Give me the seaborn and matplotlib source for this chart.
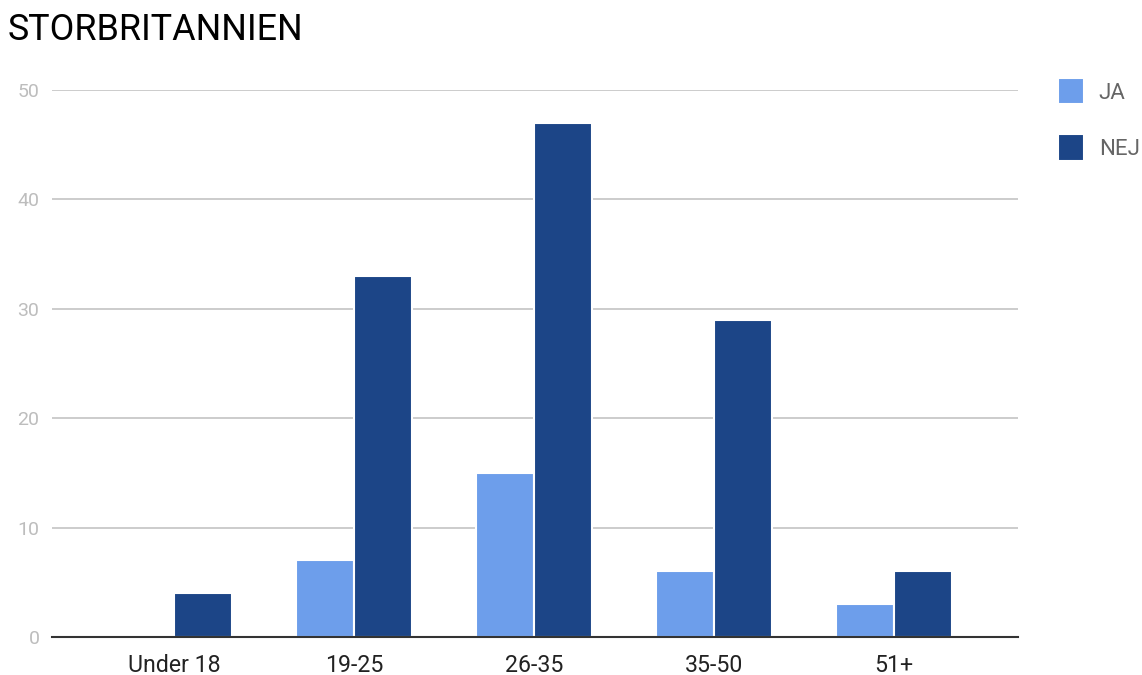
import matplotlib
matplotlib.use("Agg")
import matplotlib.pyplot as plt
import seaborn as sns
import pandas as pd

# Age groups and answer counts
categories = ["Under 18", "19-25", "26-35", "35-50", "51+"]
ja_values = [0, 7, 15, 6, 3]
nej_values = [4, 33, 47, 29, 6]
series_names = ["JA", "NEJ"]
y_ticks = [0, 10, 20, 30, 40, 50]

df = pd.DataFrame({
    "group": categories * 2,
    "answer": [series_names[0]] * len(categories) + [series_names[1]] * len(categories),
    "count": ja_values + nej_values,
})

sns.set_theme(style="white")
plt.rcParams["font.family"] = ["Roboto", "DejaVu Sans"]

fig = plt.figure(figsize=(11.42, 6.75), dpi=100)
ax = fig.add_axes([0.0455, 0.0563, 0.8459, 0.8104])

palette = {"JA": "#6d9eeb", "NEJ": "#1c4587"}
sns.barplot(data=df, x="group", y="count", hue="answer", order=categories,
            hue_order=series_names, palette=palette, width=0.645,
            edgecolor="white", linewidth=1.5, saturation=1, ax=ax, legend=True)

ax.set_xlim(-0.678, 4.689)
ax.set_ylim(0, 50)
ax.set_yticks(y_ticks)
ax.set_yticklabels([str(v) for v in y_ticks])
ax.yaxis.grid(True, color="#cccccc", linewidth=1.4)
ax.set_axisbelow(True)
for side in ["top", "right", "left"]:
    ax.spines[side].set_visible(False)
ax.spines["bottom"].set_color("#333333")
ax.spines["bottom"].set_linewidth(1.5)
ax.spines["bottom"].set_zorder(5)
ax.set_xlabel("")
ax.set_ylabel("")
ax.tick_params(axis="y", length=0, pad=9, labelsize=14, labelcolor="#bdbdbd")
ax.tick_params(axis="x", length=0, pad=12, labelsize=16.7, labelcolor="#222222")

handles, labels = ax.get_legend_handles_labels()
ax.legend(handles, labels, loc="upper left", bbox_to_anchor=(0.9265, 0.8844),
          bbox_transform=fig.transFigure, frameon=False, fontsize=16,
          labelcolor="#666666", handlelength=1.15, handleheight=1.45,
          handletextpad=0.68, labelspacing=1.35, borderaxespad=0, borderpad=0)

fig.text(0.007, 0.956, "STORBRITANNIEN", fontsize=25.8, color="#000000",
         ha="left", va="center")

fig.savefig("out.png", dpi=100)
